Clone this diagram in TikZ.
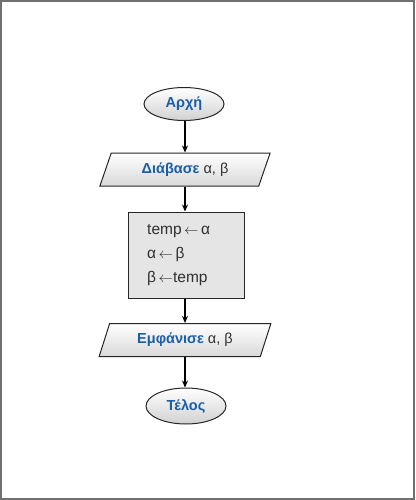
\documentclass[tikz,border=0pt]{standalone}
\usepackage{fontspec}
\setmainfont{Liberation Sans}
\usetikzlibrary{shapes.geometric,arrows.meta}
\definecolor{kw}{HTML}{1A5EA8}
\definecolor{txt}{HTML}{303030}
\definecolor{frame}{HTML}{707070}
\tikzset{
  term/.style={ellipse, draw=black!85, line width=1pt, top color=white, bottom color=black!18, minimum width=80pt, minimum height=33pt, inner sep=0pt, font=\fontsize{14.5}{16}\selectfont\bfseries, text=kw},
  io/.style={trapezium, trapezium left angle=64, trapezium right angle=116, trapezium stretches=true, draw=black!85, line width=1pt, top color=white, bottom color=black!15, minimum width=172pt, minimum height=33pt, inner sep=0pt, font=\fontsize{14.5}{16}\selectfont, text=txt},
  proc/.style={rectangle, draw=black!85, line width=1pt, fill=black!10, minimum width=116pt, minimum height=86pt, inner sep=0pt},
  ptext/.style={anchor=west, text=txt, inner sep=0pt, font=\fontsize{15.5}{18}\selectfont},
  flow/.style={draw=black, line width=1.2pt, -{Stealth[length=7pt,width=6pt]}}
}
\begin{document}
\begin{tikzpicture}[x=1pt,y=-1pt]
\path[use as bounding box] (0,0) rectangle (415,500);
\draw[frame, line width=2pt] (1,1) rectangle (414,499);
\node[term] (start) at (184,104) {Αρχή};
\node[io] (read) at (185,169.5) {\textcolor{kw}{\bfseries Διάβασε} α, β};
\node[proc] (swap) at (186,255) {};
\node[ptext] (l1) at (147,231) {temp\,$\leftarrow$\,α};
\node[ptext] (l2) at (147,254) {α\,$\leftarrow$\,β};
\node[ptext] (l3) at (147,278) {β\,$\leftarrow$temp};
\node[io] (show) at (185,340) {\textcolor{kw}{\bfseries Εμφάνισε} α, β};
\node[term, minimum height=36pt] (stop) at (186,406) {Τέλος};
\draw[flow] (start.south -| 185,0) -- (read.north -| 185,0);
\draw[flow] (read.south -| 185,0) -- (swap.north -| 185,0);
\draw[flow] (swap.south -| 185,0) -- (show.north -| 185,0);
\draw[flow] (show.south -| 185,0) -- (stop.north -| 185,0);
\end{tikzpicture}
\end{document}
